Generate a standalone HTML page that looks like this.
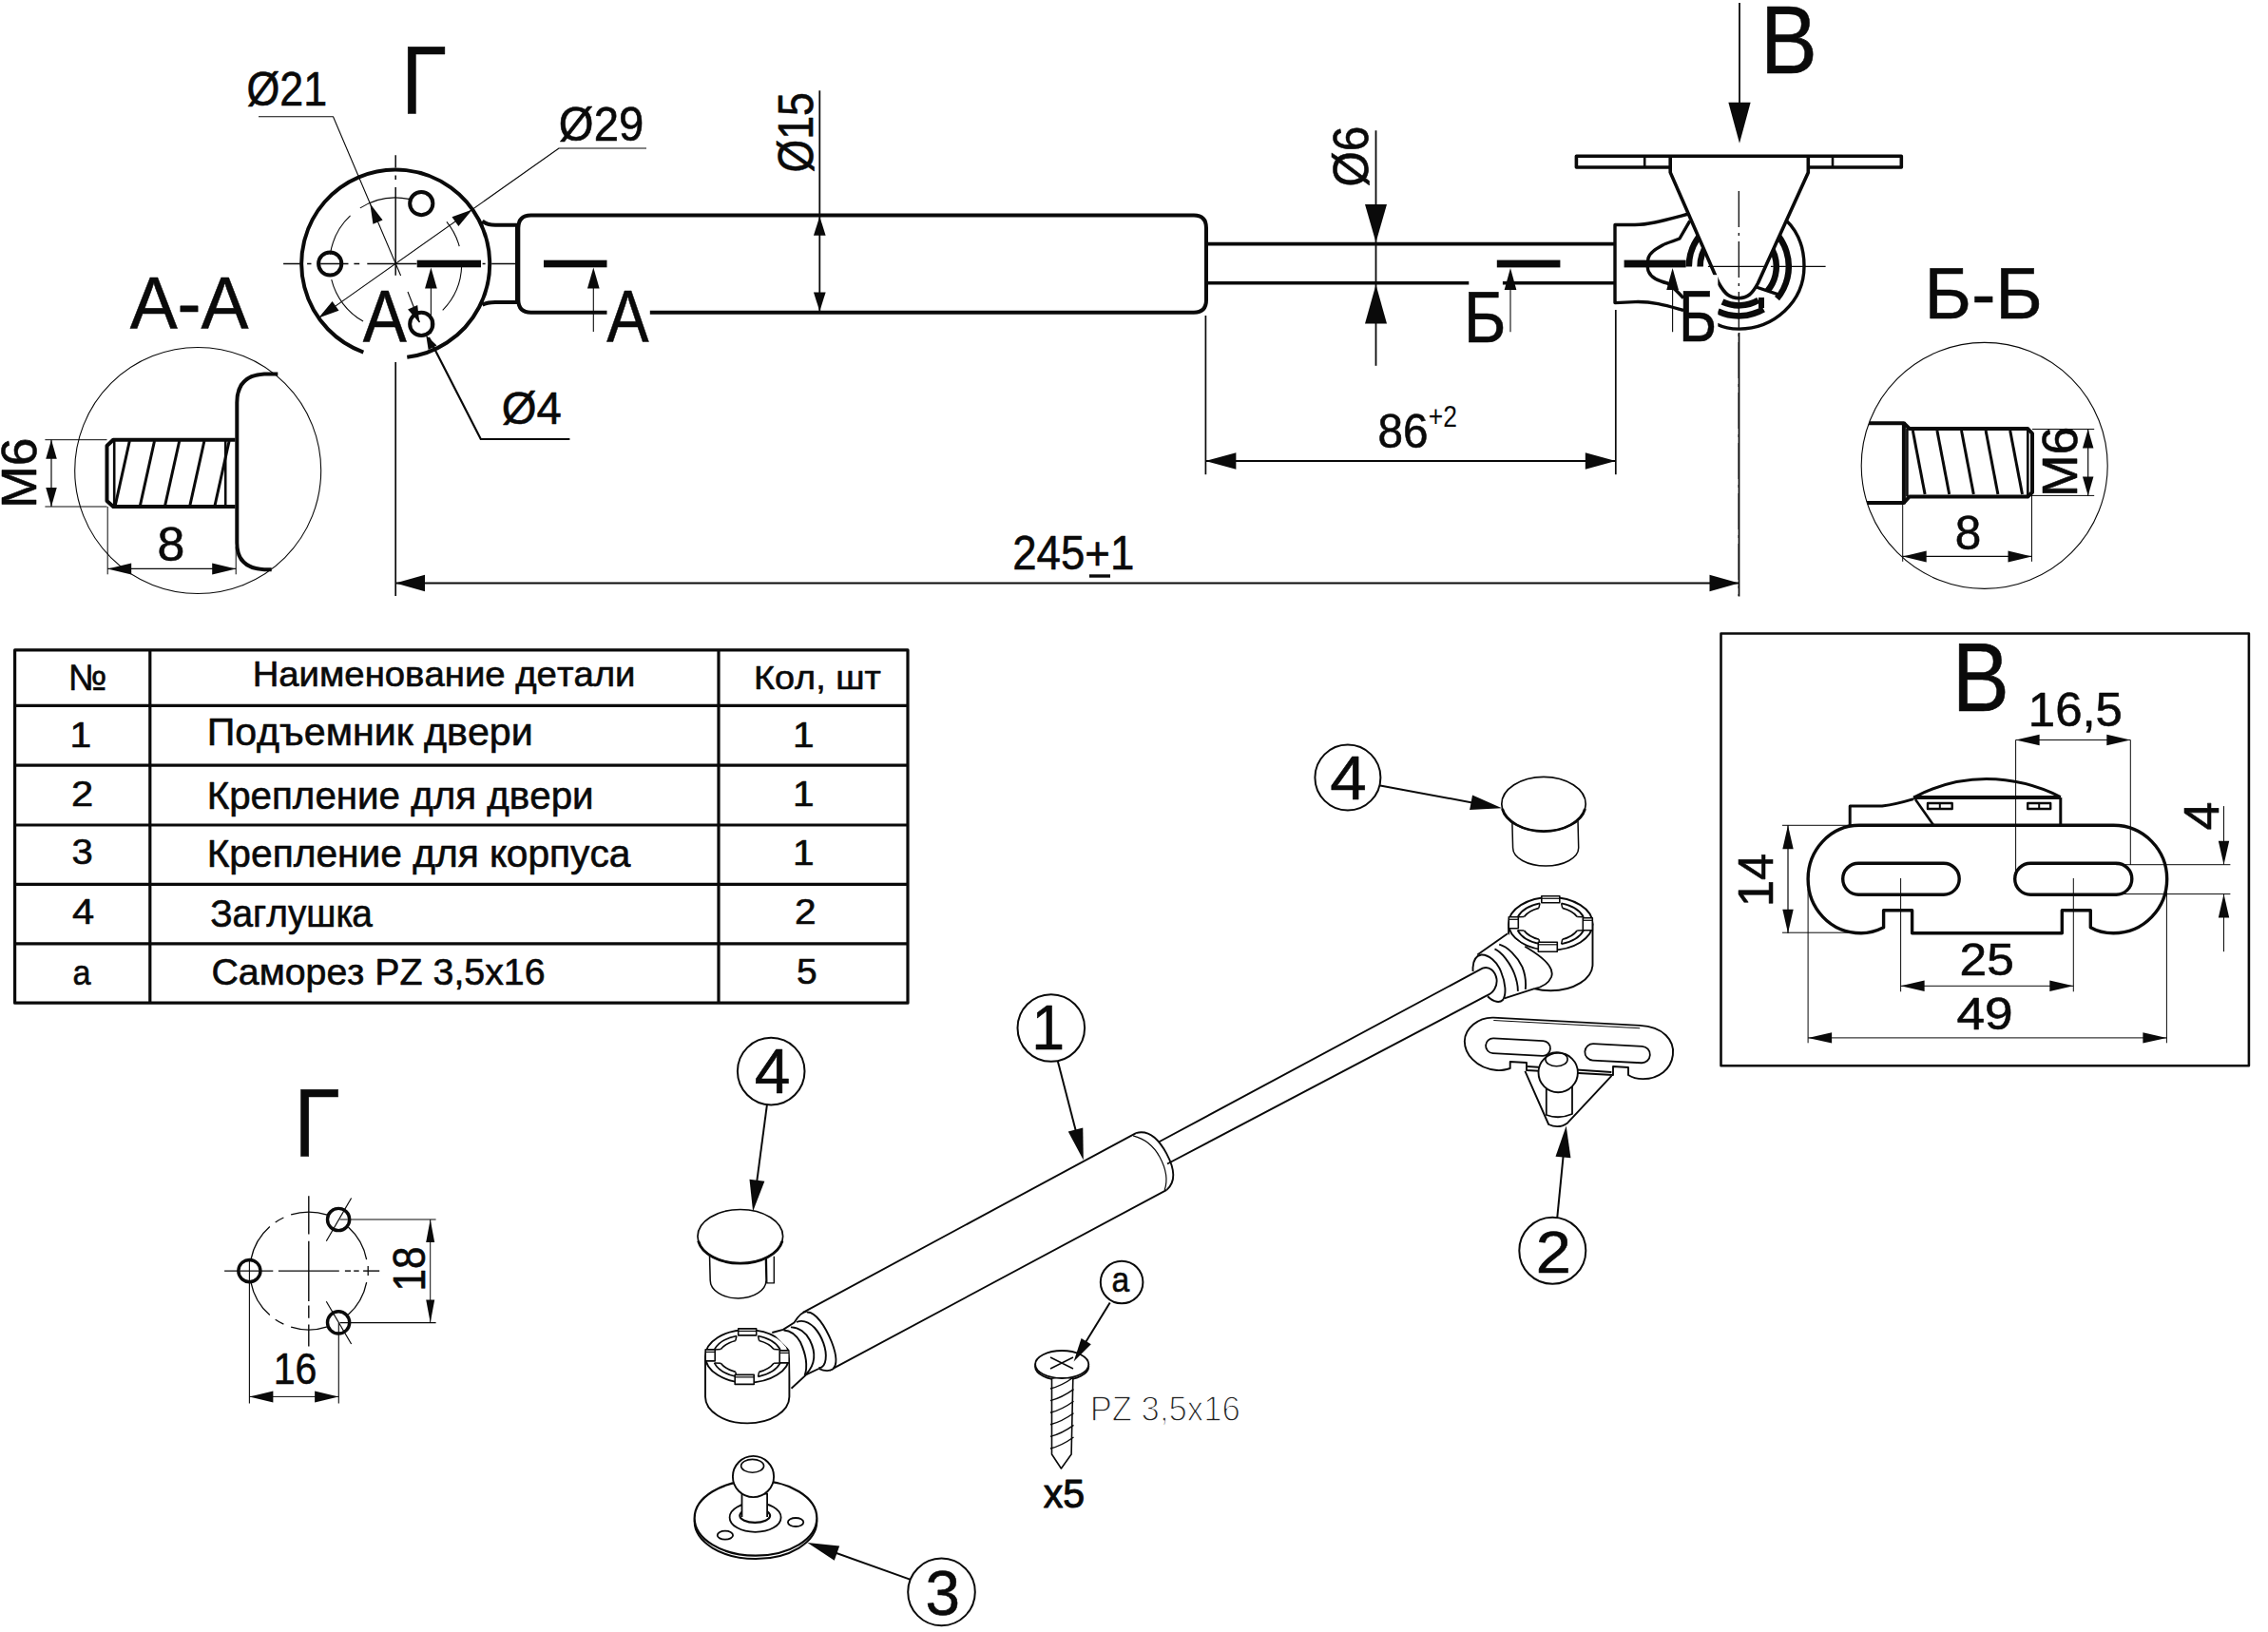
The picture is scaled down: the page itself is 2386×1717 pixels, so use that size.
<!DOCTYPE html>
<html><head><meta charset="utf-8"><style>
html,body{margin:0;padding:0;background:#fff;}
svg{display:block;}
text{font-family:"Liberation Sans",sans-serif;font-kerning:none;}
</style></head><body>
<svg width="2386" height="1717" viewBox="0 0 2386 1717">
<rect x="0" y="0" width="2386" height="1717" fill="#fff"/>
<g stroke="#0a0a0a" fill="none" stroke-linecap="butt" stroke-linejoin="round">
<path d="M382.34,370.53 A99.00,99.00 0 1 1 428.27,375.76" stroke-width="4.0" fill="none" />
<path d="M378.86,218.88 A69.50,69.50 0 0 1 430.06,209.40" stroke-width="1.1" fill="none" />
<path d="M347.39,267.71 A69.50,69.50 0 0 1 368.54,226.92" stroke-width="1.1" fill="none" />
<path d="M382.08,338.05 A69.50,69.50 0 0 1 348.74,294.20" stroke-width="1.1" fill="none" />
<path d="M485.67,279.68 A69.50,69.50 0 0 1 465.69,326.30" stroke-width="1.1" fill="none" />
<path d="M469.90,233.39 A69.50,69.50 0 0 1 483.20,259.04" stroke-width="1.1" fill="none" />
<circle cx="443.27" cy="214.03" r="12.10" stroke-width="4.0" fill="none" />
<circle cx="347.20" cy="277.50" r="12.10" stroke-width="4.0" fill="none" />
<circle cx="443.27" cy="340.97" r="12.10" stroke-width="4.0" fill="none" />
<line x1="298.10" y1="277.50" x2="315.70" y2="277.50" stroke-width="1.5" />
<line x1="323.10" y1="277.50" x2="327.50" y2="277.50" stroke-width="1.5" />
<line x1="337.10" y1="277.50" x2="366.50" y2="277.50" stroke-width="1.5" />
<line x1="372.40" y1="277.50" x2="378.20" y2="277.50" stroke-width="1.5" />
<line x1="386.30" y1="277.50" x2="438.50" y2="277.50" stroke-width="1.5" />
<line x1="507.60" y1="277.50" x2="510.60" y2="277.50" stroke-width="1.5" />
<line x1="517.20" y1="277.50" x2="545.90" y2="277.50" stroke-width="1.5" />
<line x1="416.20" y1="163.20" x2="416.20" y2="176.50" stroke-width="1.5" />
<line x1="416.20" y1="184.60" x2="416.20" y2="189.00" stroke-width="1.5" />
<line x1="416.20" y1="197.10" x2="416.20" y2="289.70" stroke-width="1.5" />
<line x1="416.20" y1="381.00" x2="416.20" y2="627.00" stroke-width="1.7" />
<path d="M272,122.8 L350.5,122.8 L421.6,290" stroke-width="1.1" fill="none" />
<path d="M429,307 L441.5,339" stroke-width="1.1" fill="none" />
<path d="M389.30,214.20 L402.58,231.38 L392.45,235.68 Z" fill="#0a0a0a" stroke="none"/>
<path d="M441.20,339.80 L429.10,325.39 L439.22,321.08 Z" fill="#0a0a0a" stroke="none"/>
<path d="M680,156 L588,156 L335.1,334.6" stroke-width="1.1" fill="none" />
<path d="M496.90,220.40 L482.39,237.99 L475.47,228.19 Z" fill="#0a0a0a" stroke="none"/>
<path d="M335.10,334.60 L349.61,317.01 L356.53,326.81 Z" fill="#0a0a0a" stroke="none"/>
<path d="M599.4,462 L505.8,462 L451,355" stroke-width="2.2" fill="none" />
<path d="M448.20,352.50 L459.53,363.53 L450.65,368.12 Z" fill="#0a0a0a" stroke="none"/>
<path d="M507.4,232.6 Q512,236.8 521,236.8 L544,236.8 L544,317.9 L521,317.9 Q512,317.9 507.4,320.8" stroke-width="4.0" fill="none" />
<path d="M1269,240 Q1269,226.5 1256,226.5 L558.5,226.5 Q545.3,226.5 545.3,240 L545.3,315.5 Q545.3,328.7 558.5,328.7 L638.5,328.7" stroke-width="4.0" fill="none" />
<path d="M683.8,328.7 L1256,328.7 Q1269,328.7 1269,315.5 L1269,240" stroke-width="4.0" fill="none" />
<rect x="438.7" y="273.7" width="67.3" height="7.6" fill="#0a0a0a" stroke="none"/>
<rect x="572" y="273.7" width="66.5" height="7.6" fill="#0a0a0a" stroke="none"/>
<line x1="453.40" y1="300.00" x2="453.40" y2="351.00" stroke-width="1.1" />
<path d="M453.40,281.60 L459.75,303.60 L447.05,303.60 Z" fill="#0a0a0a" stroke="none"/>
<line x1="624.30" y1="300.00" x2="624.30" y2="349.00" stroke-width="1.1" />
<path d="M624.30,281.60 L630.65,303.60 L617.95,303.60 Z" fill="#0a0a0a" stroke="none"/>
<text transform="translate(381.87,360.00) scale(0.8946,1)" font-size="77.04" fill="#0a0a0a" stroke="#0a0a0a" stroke-width="0.6" font-weight="normal">A</text>
<text transform="translate(638.37,360.00) scale(0.8633,1)" font-size="77.04" fill="#0a0a0a" stroke="#0a0a0a" stroke-width="0.6" font-weight="normal">A</text>
<text transform="translate(421.90,119.85) scale(0.8639,1)" font-size="101.60" fill="#0a0a0a" stroke="#0a0a0a" stroke-width="0.6" font-weight="normal">Г</text>
<text transform="translate(259.45,111.22) scale(0.9036,1)" font-size="49.62" fill="#0a0a0a" stroke="#0a0a0a" stroke-width="0.6" font-weight="normal">Ø21</text>
<text transform="translate(587.86,148.02) scale(0.9531,1)" font-size="49.62" fill="#0a0a0a" stroke="#0a0a0a" stroke-width="0.6" font-weight="normal">Ø29</text>
<text transform="translate(527.76,445.76) scale(0.9887,1)" font-size="47.86" fill="#0a0a0a" stroke="#0a0a0a" stroke-width="0.6" font-weight="normal">Ø4</text>
<text transform="translate(136.65,345.70) scale(0.9617,1)" font-size="77.91" fill="#0a0a0a" stroke="#0a0a0a" stroke-width="0.6" font-weight="normal">A-A</text>
<line x1="862.30" y1="95.30" x2="862.30" y2="328.70" stroke-width="1.8" />
<path d="M862.30,227.70 L868.65,247.70 L855.95,247.70 Z" fill="#0a0a0a" stroke="none"/>
<path d="M862.30,327.50 L855.95,307.50 L868.65,307.50 Z" fill="#0a0a0a" stroke="none"/>
<text transform="translate(855.27,181.55) rotate(-90) scale(0.8718,1)" font-size="51.23" fill="#0a0a0a" stroke="#0a0a0a" stroke-width="0.6">Ø15</text>
<line x1="1269.60" y1="256.60" x2="1699.80" y2="256.60" stroke-width="3.6" />
<line x1="1269.60" y1="297.80" x2="1545.30" y2="297.80" stroke-width="3.6" />
<line x1="1580.90" y1="297.80" x2="1699.80" y2="297.80" stroke-width="3.6" />
<line x1="1447.50" y1="137.30" x2="1447.50" y2="384.80" stroke-width="1.8" />
<path d="M1447.50,254.90 L1436.00,214.90 L1459.00,214.90 Z" fill="#0a0a0a" stroke="none"/>
<path d="M1447.50,299.50 L1459.00,340.50 L1436.00,340.50 Z" fill="#0a0a0a" stroke="none"/>
<text transform="translate(1438.67,196.56) rotate(-90) scale(0.9344,1)" font-size="51.23" fill="#0a0a0a" stroke="#0a0a0a" stroke-width="0.6">Ø6</text>
<rect x="1574.8" y="273.6" width="66.6" height="7.8" fill="#0a0a0a" stroke="none"/>
<line x1="1589.00" y1="300.00" x2="1589.00" y2="349.30" stroke-width="1.1" />
<path d="M1589.00,281.90 L1595.35,304.90 L1582.65,304.90 Z" fill="#0a0a0a" stroke="none"/>
<text transform="translate(1539.69,360.30) scale(0.9040,1)" font-size="75.58" fill="#0a0a0a" stroke="#0a0a0a" stroke-width="0.6" font-weight="normal">Б</text>
<path d="M1720,236.5 L1699,236.5 L1699,318.6 L1720,317.6 C1740,317 1755,322 1771,326.5" stroke-width="3.4" fill="none" />
<path d="M1720,236.5 C1735,236.5 1750,232 1778.8,224.5" stroke-width="3.4" fill="none" />
<path d="M1777.8,232.4 L1767,251 C1760,254 1752,256 1749.4,257.8 C1742,262 1735,266 1734,272 C1733,276 1733,284 1734.5,286 C1737,292 1746,296 1754.3,298 C1760,302 1766,308 1771,313.7" stroke-width="3.4" fill="none" />
<path d="M1878.8,231.4 C1892,244 1898,262 1898,280 C1898,318 1866,346 1829.3,346.1 C1820,346 1812,344 1806.3,341.2" stroke-width="3.4" fill="none" />
<path d="M1842.89,229.69 A52.50,52.50 0 0 1 1869.52,314.15" stroke-width="6.5" fill="none" />
<path d="M1839.52,242.25 A39.50,39.50 0 0 1 1859.56,305.79" stroke-width="6.5" fill="none" />
<path d="M1776.80,280.40 A52.50,52.50 0 0 1 1811.34,231.07" stroke-width="6.5" fill="none" />
<path d="M1788.60,280.40 A40.70,40.70 0 0 1 1815.38,242.15" stroke-width="6.5" fill="none" />
<path d="M1849.80,315.91 A41.00,41.00 0 0 1 1811.97,317.56" stroke-width="6.5" fill="none" />
<path d="M1855.30,325.43 A52.00,52.00 0 0 1 1807.32,327.53" stroke-width="6.5" fill="none" />
<line x1="1847.50" y1="302.00" x2="1871.00" y2="309.80" stroke-width="3.4" />
<line x1="1853.00" y1="313.00" x2="1853.00" y2="324.00" stroke-width="6" />
<path d="M1757.2,176 L1658.4,176 L1658.4,164.2 L2000.3,164.2 L2000.3,176 L1902.3,176" stroke-width="3.6" fill="none" />
<line x1="1730.20" y1="164.20" x2="1730.20" y2="176.00" stroke-width="2.6" />
<line x1="1928.00" y1="164.20" x2="1928.00" y2="176.00" stroke-width="2.6" />
<path d="M1757.2,166 L1757.2,181.4 L1808.2,298 C1815,310 1820,313.5 1829.3,313.7 C1838,313.5 1843,310 1849.4,298 L1902.3,181.4 L1902.3,166" stroke-width="3.6" fill="#fff" />
<line x1="1796.90" y1="280.40" x2="1920.60" y2="280.40" stroke-width="1.3" stroke-dasharray="60 6 3 6"/>
<line x1="1829.30" y1="201.00" x2="1829.30" y2="627.00" stroke-width="1.3" stroke-dasharray="38 6 3 6"/>
<rect x="1708.6" y="273.6" width="65" height="7.8" fill="#0a0a0a" stroke="none"/>
<line x1="1759.60" y1="300.00" x2="1759.60" y2="349.30" stroke-width="1.1" />
<path d="M1759.60,281.90 L1765.95,304.90 L1753.25,304.90 Z" fill="#0a0a0a" stroke="none"/>
<rect x="1772" y="289.2" width="35.3" height="73" fill="#fff" stroke="none"/>
<text transform="translate(1765.98,359.00) scale(0.8011,1)" font-size="76.45" fill="#0a0a0a" stroke="#0a0a0a" stroke-width="0.6" font-weight="normal">Б</text>
<line x1="1830.00" y1="3.00" x2="1830.00" y2="120.00" stroke-width="1.8" />
<path d="M1830.00,150.70 L1818.35,107.70 L1841.65,107.70 Z" fill="#0a0a0a" stroke="none"/>
<text transform="translate(1852.03,77.20) scale(0.8852,1)" font-size="101.46" fill="#0a0a0a" stroke="#0a0a0a" stroke-width="0.6" font-weight="normal">В</text>
<line x1="1268.40" y1="332.00" x2="1268.40" y2="499.20" stroke-width="1.7" />
<line x1="1699.80" y1="326.00" x2="1699.80" y2="499.20" stroke-width="1.7" />
<line x1="1829.50" y1="350.00" x2="1829.50" y2="627.40" stroke-width="1.7" />
<line x1="1268.40" y1="485.00" x2="1699.80" y2="485.00" stroke-width="1.9" />
<path d="M1268.40,485.00 L1300.40,476.20 L1300.40,493.80 Z" fill="#0a0a0a" stroke="none"/>
<path d="M1699.80,485.00 L1667.80,493.80 L1667.80,476.20 Z" fill="#0a0a0a" stroke="none"/>
<text transform="translate(1449.53,470.51) scale(0.9496,1)" font-size="50.14" fill="#0a0a0a" stroke="#0a0a0a" stroke-width="0.6" font-weight="normal">86</text>
<text transform="translate(1502.71,449.30) scale(0.8660,1)" font-size="30.51" fill="#0a0a0a" stroke="#0a0a0a" stroke-width="0" font-weight="normal">+2</text>
<line x1="416.00" y1="613.50" x2="1829.50" y2="613.50" stroke-width="2.0" />
<path d="M416.00,613.50 L447.00,604.70 L447.00,622.30 Z" fill="#0a0a0a" stroke="none"/>
<path d="M1829.50,613.50 L1798.50,622.30 L1798.50,604.70 Z" fill="#0a0a0a" stroke="none"/>
<text transform="translate(1065.20,598.81) scale(0.9080,1)" font-size="50.28" fill="#0a0a0a" stroke="#0a0a0a" stroke-width="0.6" font-weight="normal">245+1</text>
<line x1="1146.00" y1="606.00" x2="1168.00" y2="606.00" stroke-width="3.4" />
<text transform="translate(2024.60,335.00) scale(0.9825,1)" font-size="76.89" fill="#0a0a0a" stroke="#0a0a0a" stroke-width="0.6" font-weight="normal">Б-Б</text>
<circle cx="208.20" cy="495.00" r="129.50" stroke-width="1.1" fill="none" />
<path d="M247.5,462.7 L119.1,462.7 L112.5,469 L112.5,527 L119.1,533 L247.5,533" stroke-width="4.0" fill="none" />
<line x1="120.20" y1="464.00" x2="120.20" y2="532.00" stroke-width="2.6" />
<line x1="237.20" y1="464.00" x2="237.20" y2="532.00" stroke-width="2.6" />
<line x1="121.30" y1="531.50" x2="136.30" y2="464.00" stroke-width="3.0" />
<line x1="147.50" y1="531.50" x2="162.50" y2="464.00" stroke-width="3.0" />
<line x1="173.70" y1="531.50" x2="188.70" y2="464.00" stroke-width="3.0" />
<line x1="199.90" y1="531.50" x2="214.90" y2="464.00" stroke-width="3.0" />
<line x1="226.10" y1="531.50" x2="241.10" y2="464.00" stroke-width="3.0" />
<path d="M292.3,393.6 L278,393.6 Q249.3,395 249.3,423.4 L249.3,571.2 Q249.3,598 278,599.3 L285.7,599.3" stroke-width="4.0" fill="none" />
<line x1="47.40" y1="462.70" x2="112.50" y2="462.70" stroke-width="1.0" />
<line x1="47.40" y1="533.00" x2="112.50" y2="533.00" stroke-width="1.0" />
<line x1="54.00" y1="462.70" x2="54.00" y2="533.00" stroke-width="1.2" />
<path d="M54.00,462.70 L59.75,482.70 L48.25,482.70 Z" fill="#0a0a0a" stroke="none"/>
<path d="M54.00,533.00 L48.25,513.00 L59.75,513.00 Z" fill="#0a0a0a" stroke="none"/>
<text transform="translate(38.10,534.78) rotate(-90) scale(1.0378,1)" font-size="51.41" fill="#0a0a0a" stroke="#0a0a0a" stroke-width="0.6">M6</text>
<line x1="113.20" y1="533.00" x2="113.20" y2="604.30" stroke-width="1.0" />
<line x1="248.20" y1="575.00" x2="248.20" y2="604.30" stroke-width="1.0" />
<line x1="113.20" y1="598.40" x2="248.20" y2="598.40" stroke-width="1.3" />
<path d="M113.20,598.40 L138.20,592.40 L138.20,604.40 Z" fill="#0a0a0a" stroke="none"/>
<path d="M248.20,598.40 L223.20,604.40 L223.20,592.40 Z" fill="#0a0a0a" stroke="none"/>
<text transform="translate(165.45,589.51) scale(1.0387,1)" font-size="49.86" fill="#0a0a0a" stroke="#0a0a0a" stroke-width="0.6" font-weight="normal">8</text>
<circle cx="2087.70" cy="489.90" r="129.50" stroke-width="1.1" fill="none" />
<clipPath id="bbclip"><circle cx="2087.7" cy="489.9" r="129.5"/></clipPath>
<g clip-path="url(#bbclip)">
<path d="M1950,445.2 L2002.9,445.2 L2002.9,529 L1950,529" stroke-width="4.0" fill="none" />
</g>
<path d="M2002.9,445.2 L2008.7,451 L2133.3,451 L2138,456 L2138,518 L2133.3,522.5 L2008.7,522.5 L2002.9,529" stroke-width="4.0" fill="none" />
<line x1="2006.40" y1="451.00" x2="2006.40" y2="522.50" stroke-width="2.6" />
<line x1="2133.30" y1="451.00" x2="2133.30" y2="522.50" stroke-width="2.6" />
<line x1="2012.30" y1="453.00" x2="2025.10" y2="520.00" stroke-width="3.0" />
<line x1="2037.90" y1="453.00" x2="2050.70" y2="520.00" stroke-width="3.0" />
<line x1="2063.50" y1="453.00" x2="2076.30" y2="520.00" stroke-width="3.0" />
<line x1="2089.10" y1="453.00" x2="2101.90" y2="520.00" stroke-width="3.0" />
<line x1="2114.70" y1="453.00" x2="2127.50" y2="520.00" stroke-width="3.0" />
<line x1="2138.00" y1="451.50" x2="2203.20" y2="451.50" stroke-width="1.0" />
<line x1="2138.00" y1="521.40" x2="2203.20" y2="521.40" stroke-width="1.0" />
<line x1="2196.70" y1="451.50" x2="2196.70" y2="521.40" stroke-width="1.2" />
<path d="M2196.70,451.50 L2202.45,471.50 L2190.95,471.50 Z" fill="#0a0a0a" stroke="none"/>
<path d="M2196.70,521.40 L2190.95,501.40 L2202.45,501.40 Z" fill="#0a0a0a" stroke="none"/>
<text transform="translate(2185.20,522.99) rotate(-90) scale(1.0496,1)" font-size="50.99" fill="#0a0a0a" stroke="#0a0a0a" stroke-width="0.6">M6</text>
<line x1="2001.70" y1="529.00" x2="2001.70" y2="590.80" stroke-width="1.0" />
<line x1="2137.50" y1="518.00" x2="2137.50" y2="590.80" stroke-width="1.0" />
<line x1="2001.70" y1="585.40" x2="2137.50" y2="585.40" stroke-width="1.3" />
<path d="M2001.70,585.40 L2026.70,579.40 L2026.70,591.40 Z" fill="#0a0a0a" stroke="none"/>
<path d="M2137.50,585.40 L2112.50,591.40 L2112.50,579.40 Z" fill="#0a0a0a" stroke="none"/>
<text transform="translate(2056.65,577.52) scale(1.0001,1)" font-size="49.43" fill="#0a0a0a" stroke="#0a0a0a" stroke-width="0.6" font-weight="normal">8</text>
<rect x="15.6" y="683.9" width="939.4" height="371.30000000000007" stroke-width="3.2" fill="none"/>
<line x1="15.60" y1="742.40" x2="955.00" y2="742.40" stroke-width="3.2" />
<line x1="15.60" y1="805.20" x2="955.00" y2="805.20" stroke-width="3.2" />
<line x1="15.60" y1="868.00" x2="955.00" y2="868.00" stroke-width="3.2" />
<line x1="15.60" y1="930.40" x2="955.00" y2="930.40" stroke-width="3.2" />
<line x1="15.60" y1="992.90" x2="955.00" y2="992.90" stroke-width="3.2" />
<line x1="157.80" y1="683.90" x2="157.80" y2="1055.20" stroke-width="3.2" />
<line x1="756.00" y1="683.90" x2="756.00" y2="1055.20" stroke-width="3.2" />
<text transform="translate(71.93,725.60) scale(0.9857,1)" font-size="38.37" fill="#0a0a0a" stroke="#0a0a0a" stroke-width="0.6" font-weight="normal">№</text>
<text transform="translate(265.66,722.30) scale(1.0379,1)" font-size="36.92" fill="#0a0a0a" stroke="#0a0a0a" stroke-width="0.6" font-weight="normal">Наименование детали</text>
<text transform="translate(793.10,724.90) scale(1.0739,1)" font-size="35.18" fill="#0a0a0a" stroke="#0a0a0a" stroke-width="0.6" font-weight="normal">Кол, шт</text>
<text transform="translate(73.49,786.30) scale(1.1100,1)" font-size="36.77" fill="#0a0a0a" stroke="#0a0a0a" stroke-width="0.6" font-weight="normal">1</text>
<text transform="translate(74.90,847.80) scale(1.1510,1)" font-size="36.23" fill="#0a0a0a" stroke="#0a0a0a" stroke-width="0.6" font-weight="normal">2</text>
<text transform="translate(75.47,909.45) scale(1.1040,1)" font-size="36.30" fill="#0a0a0a" stroke="#0a0a0a" stroke-width="0.6" font-weight="normal">3</text>
<text transform="translate(76.04,971.80) scale(1.1200,1)" font-size="37.21" fill="#0a0a0a" stroke="#0a0a0a" stroke-width="0.6" font-weight="normal">4</text>
<text transform="translate(76.44,1036.04) scale(0.9202,1)" font-size="37.24" fill="#0a0a0a" stroke="#0a0a0a" stroke-width="0.6" font-weight="normal">а</text>
<text transform="translate(217.66,783.90) scale(1.0112,1)" font-size="40.70" fill="#0a0a0a" stroke="#0a0a0a" stroke-width="0.6" font-weight="normal">Подъемник двери</text>
<text transform="translate(217.69,850.50) scale(0.9911,1)" font-size="40.70" fill="#0a0a0a" stroke="#0a0a0a" stroke-width="0.6" font-weight="normal">Крепление для двери</text>
<text transform="translate(217.66,912.10) scale(1.0002,1)" font-size="40.70" fill="#0a0a0a" stroke="#0a0a0a" stroke-width="0.6" font-weight="normal">Крепление для корпуса</text>
<text transform="translate(221.13,974.90) scale(0.9668,1)" font-size="40.13" fill="#0a0a0a" stroke="#0a0a0a" stroke-width="0.6" font-weight="normal">Заглушка</text>
<text transform="translate(222.40,1036.30) scale(1.0326,1)" font-size="38.10" fill="#0a0a0a" stroke="#0a0a0a" stroke-width="0.6" font-weight="normal">Саморез PZ 3,5x16</text>
<text transform="translate(833.91,786.30) scale(1.1037,1)" font-size="36.77" fill="#0a0a0a" stroke="#0a0a0a" stroke-width="0.6" font-weight="normal">1</text>
<text transform="translate(833.91,847.80) scale(1.1037,1)" font-size="36.77" fill="#0a0a0a" stroke="#0a0a0a" stroke-width="0.6" font-weight="normal">1</text>
<text transform="translate(833.91,909.80) scale(1.0866,1)" font-size="37.36" fill="#0a0a0a" stroke="#0a0a0a" stroke-width="0.6" font-weight="normal">1</text>
<text transform="translate(835.96,971.80) scale(1.1076,1)" font-size="36.66" fill="#0a0a0a" stroke="#0a0a0a" stroke-width="0.6" font-weight="normal">2</text>
<text transform="translate(837.94,1035.43) scale(1.0431,1)" font-size="37.41" fill="#0a0a0a" stroke="#0a0a0a" stroke-width="0.6" font-weight="normal">5</text>
<rect x="1810.5" y="666.5" width="555.4" height="454.8" stroke-width="2.6" fill="none"/>
<text transform="translate(2053.80,747.60) scale(0.8789,1)" font-size="102.62" fill="#0a0a0a" stroke="#0a0a0a" stroke-width="0.6" font-weight="normal">В</text>
<path d="M1956.1,868.3 L2223.3,868.3 C2256,868.3 2279.7,895 2279.7,924.7 C2279.7,955 2256,981.7 2223.3,981.7 C2213,981.7 2205,979 2199.3,975.7 L2199.3,957.7 L2169.3,957.7 L2169.3,981.7 L2011.6,981.7 L2011.6,957.7 L1981.6,957.7 L1981.6,975.7 C1975,979 1967,981.7 1958,981.7 C1925,981.7 1902.1,955 1902.1,924.7 C1902.1,895 1925,868.3 1956.1,868.3 Z" stroke-width="3.4" fill="none" />
<rect x="1938.7" y="908.2" width="122.5" height="33" rx="16.5" stroke-width="3.4" fill="none"/>
<rect x="2119.7" y="908.2" width="123.1" height="33" rx="16.5" stroke-width="3.4" fill="none"/>
<path d="M1946.2,868.3 L1946.2,848.1 L1980.1,848.1 Q1995,846 2013.1,840.6" stroke-width="3.0" fill="none" />
<line x1="2013.10" y1="839.10" x2="2167.80" y2="839.10" stroke-width="4.0" />
<line x1="2167.80" y1="839.10" x2="2167.80" y2="868.30" stroke-width="3.0" />
<path d="M2013.1,839.1 Q2050,819.6 2089.7,819.6 Q2130,819.6 2167.8,838.5" stroke-width="3.0" fill="none" />
<line x1="2015.00" y1="841.00" x2="2034.20" y2="868.30" stroke-width="2.6" />
<rect x="2028" y="845" width="25.7" height="6" stroke-width="2.4" fill="none"/>
<rect x="2133.2" y="845" width="24" height="6" stroke-width="2.4" fill="none"/>
<line x1="2040.80" y1="845.00" x2="2040.80" y2="851.00" stroke-width="2" />
<line x1="2145.20" y1="845.00" x2="2145.20" y2="851.00" stroke-width="2" />
<line x1="2120.60" y1="778.50" x2="2120.60" y2="924.00" stroke-width="1.0" />
<line x1="2241.30" y1="778.50" x2="2241.30" y2="910.00" stroke-width="1.0" />
<line x1="2120.60" y1="778.50" x2="2241.30" y2="778.50" stroke-width="1.0" />
<path d="M2120.60,778.50 L2145.60,772.80 L2145.60,784.20 Z" fill="#0a0a0a" stroke="none"/>
<path d="M2241.30,778.50 L2216.30,784.20 L2216.30,772.80 Z" fill="#0a0a0a" stroke="none"/>
<text transform="translate(2133.82,764.00) scale(1.0073,1)" font-size="50.56" fill="#0a0a0a" stroke="#0a0a0a" stroke-width="0.6" font-weight="normal">16,5</text>
<line x1="1875.00" y1="868.30" x2="1946.00" y2="868.30" stroke-width="1.0" />
<line x1="1875.00" y1="981.20" x2="1958.00" y2="981.20" stroke-width="1.0" />
<line x1="1881.00" y1="868.30" x2="1881.00" y2="981.70" stroke-width="1.2" />
<path d="M1881.00,868.30 L1886.70,893.30 L1875.30,893.30 Z" fill="#0a0a0a" stroke="none"/>
<path d="M1881.00,981.70 L1875.30,956.70 L1886.70,956.70 Z" fill="#0a0a0a" stroke="none"/>
<text transform="translate(1864.50,954.06) rotate(-90) scale(0.9680,1)" font-size="52.33" fill="#0a0a0a" stroke="#0a0a0a" stroke-width="0.6">14</text>
<line x1="1999.60" y1="924.00" x2="1999.60" y2="1043.30" stroke-width="1.0" />
<line x1="2181.30" y1="924.00" x2="2181.30" y2="1043.30" stroke-width="1.0" />
<line x1="1999.60" y1="1037.30" x2="2181.30" y2="1037.30" stroke-width="1.0" />
<path d="M1999.60,1037.30 L2024.60,1031.60 L2024.60,1043.00 Z" fill="#0a0a0a" stroke="none"/>
<path d="M2181.30,1037.30 L2156.30,1043.00 L2156.30,1031.60 Z" fill="#0a0a0a" stroke="none"/>
<text transform="translate(2061.61,1026.32) scale(1.0532,1)" font-size="48.87" fill="#0a0a0a" stroke="#0a0a0a" stroke-width="0.6" font-weight="normal">25</text>
<line x1="1902.10" y1="935.00" x2="1902.10" y2="1097.30" stroke-width="1.0" />
<line x1="2279.40" y1="935.00" x2="2279.40" y2="1097.30" stroke-width="1.0" />
<line x1="1902.10" y1="1091.90" x2="2279.40" y2="1091.90" stroke-width="1.0" />
<path d="M1902.10,1091.90 L1927.10,1086.20 L1927.10,1097.60 Z" fill="#0a0a0a" stroke="none"/>
<path d="M2279.40,1091.90 L2254.40,1097.60 L2254.40,1086.20 Z" fill="#0a0a0a" stroke="none"/>
<text transform="translate(2058.48,1083.32) scale(1.0931,1)" font-size="48.73" fill="#0a0a0a" stroke="#0a0a0a" stroke-width="0.6" font-weight="normal">49</text>
<line x1="2226.00" y1="909.70" x2="2346.40" y2="909.70" stroke-width="1.0" />
<line x1="2226.00" y1="940.60" x2="2346.40" y2="940.60" stroke-width="1.0" />
<line x1="2339.50" y1="848.10" x2="2339.50" y2="909.70" stroke-width="1.0" />
<path d="M2339.50,909.70 L2333.80,884.70 L2345.20,884.70 Z" fill="#0a0a0a" stroke="none"/>
<line x1="2339.50" y1="940.60" x2="2339.50" y2="1001.20" stroke-width="1.0" />
<path d="M2339.50,940.60 L2345.20,965.60 L2333.80,965.60 Z" fill="#0a0a0a" stroke="none"/>
<text transform="translate(2334.40,873.43) rotate(-90) scale(1.0278,1)" font-size="52.33" fill="#0a0a0a" stroke="#0a0a0a" stroke-width="0.6">4</text>
<text transform="translate(309.23,1217.45) scale(0.8642,1)" font-size="102.62" fill="#0a0a0a" stroke="#0a0a0a" stroke-width="0.6" font-weight="normal">Г</text>
<path d="M263.96,1325.16 A62.00,62.00 0 0 1 283.80,1290.59" stroke-width="1.3" fill="none" />
<path d="M289.68,1286.00 A62.00,62.00 0 0 1 298.40,1281.00" stroke-width="1.3" fill="none" />
<path d="M306.16,1277.97 A62.00,62.00 0 0 1 344.27,1278.24" stroke-width="1.3" fill="none" />
<path d="M366.37,1291.10 A62.00,62.00 0 0 1 385.64,1325.16" stroke-width="1.3" fill="none" />
<path d="M385.64,1349.04 A62.00,62.00 0 0 1 366.13,1383.32" stroke-width="1.3" fill="none" />
<path d="M344.27,1395.96 A62.00,62.00 0 0 1 306.16,1396.23" stroke-width="1.3" fill="none" />
<path d="M298.40,1393.20 A62.00,62.00 0 0 1 289.68,1388.20" stroke-width="1.3" fill="none" />
<path d="M283.80,1383.61 A62.00,62.00 0 0 1 263.96,1349.04" stroke-width="1.3" fill="none" />
<line x1="236.10" y1="1337.10" x2="287.30" y2="1337.10" stroke-width="1.4" />
<line x1="292.90" y1="1337.10" x2="356.80" y2="1337.10" stroke-width="1.4" />
<line x1="362.90" y1="1337.10" x2="369.00" y2="1337.10" stroke-width="1.4" />
<line x1="372.20" y1="1337.10" x2="377.70" y2="1337.10" stroke-width="1.4" />
<line x1="382.10" y1="1337.10" x2="399.20" y2="1337.10" stroke-width="1.4" />
<line x1="324.80" y1="1258.30" x2="324.80" y2="1298.50" stroke-width="1.4" />
<line x1="324.80" y1="1305.70" x2="324.80" y2="1369.10" stroke-width="1.4" />
<line x1="324.80" y1="1373.50" x2="324.80" y2="1386.80" stroke-width="1.4" />
<line x1="324.80" y1="1393.40" x2="324.80" y2="1416.60" stroke-width="1.4" />
<circle cx="262.40" cy="1337.10" r="11.60" stroke-width="3.4" fill="none" />
<circle cx="356.10" cy="1283.00" r="11.60" stroke-width="3.4" fill="none" />
<circle cx="356.10" cy="1391.40" r="11.60" stroke-width="3.4" fill="none" />
<line x1="343.30" y1="1305.70" x2="369.60" y2="1260.50" stroke-width="1.2" />
<line x1="343.30" y1="1369.20" x2="369.60" y2="1414.00" stroke-width="1.2" />
<line x1="357.50" y1="1283.00" x2="458.60" y2="1283.00" stroke-width="1.1" />
<line x1="357.50" y1="1391.60" x2="458.60" y2="1391.60" stroke-width="1.1" />
<line x1="452.70" y1="1283.00" x2="452.70" y2="1391.40" stroke-width="1.0" />
<path d="M452.70,1283.00 L457.20,1307.00 L448.20,1307.00 Z" fill="#0a0a0a" stroke="none"/>
<path d="M452.70,1391.40 L448.20,1367.40 L457.20,1367.40 Z" fill="#0a0a0a" stroke="none"/>
<text transform="translate(446.94,1358.52) rotate(-90) scale(0.8915,1)" font-size="47.46" fill="#0a0a0a" stroke="#0a0a0a" stroke-width="0.6">18</text>
<line x1="262.40" y1="1325.00" x2="262.40" y2="1476.40" stroke-width="1.1" />
<line x1="356.30" y1="1392.00" x2="356.30" y2="1476.40" stroke-width="1.1" />
<line x1="387.20" y1="1332.00" x2="387.20" y2="1342.00" stroke-width="1.3" />
<line x1="262.40" y1="1469.40" x2="356.10" y2="1469.40" stroke-width="1.0" />
<path d="M262.40,1469.40 L287.40,1463.40 L287.40,1475.40 Z" fill="#0a0a0a" stroke="none"/>
<path d="M356.10,1469.40 L331.10,1475.40 L331.10,1463.40 Z" fill="#0a0a0a" stroke="none"/>
<text transform="translate(287.67,1456.15) scale(0.8931,1)" font-size="46.04" fill="#0a0a0a" stroke="#0a0a0a" stroke-width="0.6" font-weight="normal">16</text>
<g transform="translate(859.4,1412.2) rotate(-28.4)">
<path d="M2,-34.5 L400,-34 M-2,32.3 L400,34" stroke-width="1.9" fill="none" />
<path d="M400,-34 Q418,-30 418,0 Q418,30 400,34" stroke-width="1.9" fill="none" />
<path d="M396,-33 Q410,-20 410,0 Q410,22 398,33" stroke-width="1.2" fill="none" />
</g>
<path d="M742.0,1426.9 L742.0,1469.6 A44.2,27.8 0 0 0 830.4,1469.6 L830.4,1426.9" stroke-width="1.9" fill="#fff" />
<ellipse cx="786.20" cy="1426.90" rx="44.20" ry="27.80" stroke-width="1.9" fill="#fff" transform="rotate(0 786.20 1426.90)" />
<path d="M751.49,1419.95 A36.5,22.5 0 0 1 774.92,1405.50" stroke-width="1.7" fill="none" />
<path d="M758.34,1419.58 A30.5,18.0 0 0 1 773.79,1410.46" stroke-width="1.7" fill="none" />
<path d="M751.5,1419.9 L758.3,1419.6" stroke-width="1.5" fill="none" />
<path d="M774.9,1405.5 L773.8,1410.5" stroke-width="1.5" fill="none" />
<path d="M797.48,1405.50 A36.5,22.5 0 0 1 820.91,1419.95" stroke-width="1.7" fill="none" />
<path d="M798.61,1410.46 A30.5,18.0 0 0 1 814.06,1419.58" stroke-width="1.7" fill="none" />
<path d="M797.5,1405.5 L798.6,1410.5" stroke-width="1.5" fill="none" />
<path d="M820.9,1419.9 L814.1,1419.6" stroke-width="1.5" fill="none" />
<path d="M820.91,1433.85 A36.5,22.5 0 0 1 797.48,1448.30" stroke-width="1.7" fill="none" />
<path d="M814.06,1434.22 A30.5,18.0 0 0 1 798.61,1443.34" stroke-width="1.7" fill="none" />
<path d="M820.9,1433.9 L814.1,1434.2" stroke-width="1.5" fill="none" />
<path d="M797.5,1448.3 L798.6,1443.3" stroke-width="1.5" fill="none" />
<path d="M774.92,1448.30 A36.5,22.5 0 0 1 751.49,1433.85" stroke-width="1.7" fill="none" />
<path d="M773.79,1443.34 A30.5,18.0 0 0 1 758.34,1434.22" stroke-width="1.7" fill="none" />
<path d="M774.9,1448.3 L773.8,1443.3" stroke-width="1.5" fill="none" />
<path d="M751.5,1433.9 L758.3,1434.2" stroke-width="1.5" fill="none" />
<rect x="776.7" y="1397.9" width="19" height="7" stroke-width="1.6" fill="#fff"/>
<line x1="776.70" y1="1400.40" x2="795.70" y2="1400.40" stroke-width="1.2" />
<rect x="742.2" y="1419.9" width="10" height="12" stroke-width="1.6" fill="#fff"/>
<line x1="742.20" y1="1422.40" x2="752.20" y2="1422.40" stroke-width="1.2" />
<rect x="820.2" y="1420.9" width="10" height="13" stroke-width="1.6" fill="#fff"/>
<line x1="820.20" y1="1423.40" x2="830.20" y2="1423.40" stroke-width="1.2" />
<rect x="773.2" y="1446.4" width="20" height="10" stroke-width="1.6" fill="#fff"/>
<line x1="773.20" y1="1448.90" x2="793.20" y2="1448.90" stroke-width="1.2" />
<path d="M1587.1,971.8 L1587.1,1014.5 A44.2,27.8 0 0 0 1675.5,1014.5 L1675.5,971.8" stroke-width="1.9" fill="#fff" />
<ellipse cx="1631.30" cy="971.80" rx="44.20" ry="27.80" stroke-width="1.9" fill="#fff" transform="rotate(0 1631.30 971.80)" />
<path d="M1596.59,964.85 A36.5,22.5 0 0 1 1620.02,950.40" stroke-width="1.7" fill="none" />
<path d="M1603.44,964.48 A30.5,18.0 0 0 1 1618.89,955.36" stroke-width="1.7" fill="none" />
<path d="M1596.6,964.8 L1603.4,964.5" stroke-width="1.5" fill="none" />
<path d="M1620.0,950.4 L1618.9,955.4" stroke-width="1.5" fill="none" />
<path d="M1642.58,950.40 A36.5,22.5 0 0 1 1666.01,964.85" stroke-width="1.7" fill="none" />
<path d="M1643.71,955.36 A30.5,18.0 0 0 1 1659.16,964.48" stroke-width="1.7" fill="none" />
<path d="M1642.6,950.4 L1643.7,955.4" stroke-width="1.5" fill="none" />
<path d="M1666.0,964.8 L1659.2,964.5" stroke-width="1.5" fill="none" />
<path d="M1666.01,978.75 A36.5,22.5 0 0 1 1642.58,993.20" stroke-width="1.7" fill="none" />
<path d="M1659.16,979.12 A30.5,18.0 0 0 1 1643.71,988.24" stroke-width="1.7" fill="none" />
<path d="M1666.0,978.8 L1659.2,979.1" stroke-width="1.5" fill="none" />
<path d="M1642.6,993.2 L1643.7,988.2" stroke-width="1.5" fill="none" />
<path d="M1620.02,993.20 A36.5,22.5 0 0 1 1596.59,978.75" stroke-width="1.7" fill="none" />
<path d="M1618.89,988.24 A30.5,18.0 0 0 1 1603.44,979.12" stroke-width="1.7" fill="none" />
<path d="M1620.0,993.2 L1618.9,988.2" stroke-width="1.5" fill="none" />
<path d="M1596.6,978.8 L1603.4,979.1" stroke-width="1.5" fill="none" />
<rect x="1621.8" y="942.8" width="19" height="7" stroke-width="1.6" fill="#fff"/>
<line x1="1621.80" y1="945.30" x2="1640.80" y2="945.30" stroke-width="1.2" />
<rect x="1587.3" y="964.8" width="10" height="12" stroke-width="1.6" fill="#fff"/>
<line x1="1587.30" y1="967.30" x2="1597.30" y2="967.30" stroke-width="1.2" />
<rect x="1665.3" y="965.8" width="10" height="13" stroke-width="1.6" fill="#fff"/>
<line x1="1665.30" y1="968.30" x2="1675.30" y2="968.30" stroke-width="1.2" />
<rect x="1618.3" y="991.3" width="20" height="10" stroke-width="1.6" fill="#fff"/>
<line x1="1618.30" y1="993.80" x2="1638.30" y2="993.80" stroke-width="1.2" />
<path d="M812.3,1402 L835.5,1391.5 L849,1380.5 C858,1380 868,1395 875,1412 C880,1425 881,1436 876,1440.5 C872,1443 866,1442 861.3,1440 L832.5,1460.8 L830.5,1420 Z" fill="#fff" stroke="none"/>
<path d="M849,1380.5 C858,1380 868,1395 875,1412 C880,1425 881,1436 876,1440.5 C872,1443 866,1442 861.3,1440" stroke-width="1.9" fill="none" />
<path d="M849,1379.6 C845,1380 840,1384 835.5,1391.5 L823.9,1398.9 L812.3,1402" stroke-width="1.9" fill="none" />
<path d="M838,1391 C845,1388 852,1392 857,1397 C865,1406 870,1420 868.6,1430.1 C868,1436 865,1439 861.3,1439.3" stroke-width="1.9" fill="none" />
<path d="M831.9,1396.4 C840,1396 848,1402 852,1410 C858,1422 858,1435 848.4,1445.5" stroke-width="1.9" fill="none" />
<path d="M824.5,1399.5 C832,1400 838,1405 842,1412 C848,1425 850,1437 846.6,1447.3" stroke-width="1.9" fill="none" />
<path d="M832.5,1460.8 L848.4,1446.1 L861.3,1440" stroke-width="1.9" fill="none" />
<path d="M1549.6,1022 L1554.3,1004.5 L1586,982.3 L1604.2,995.7 C1622,1006 1636,1018 1632,1028 C1629,1035 1622,1038.5 1614.3,1040.2 L1582.6,1050.4 L1565,1048.3 Z" fill="#fff" stroke="none"/>
<path d="M1554.3,1004.5 L1586,982.3" stroke-width="1.9" fill="none" />
<path d="M1582.6,1050.4 L1614.3,1040.2" stroke-width="1.9" fill="none" />
<path d="M1604.2,995.7 C1622,1006 1636,1018 1632,1028 C1629,1035 1622,1038.5 1614.3,1040.2" stroke-width="1.9" fill="none" />
<path d="M1577.2,993.7 C1586,996 1596,1006 1601.5,1017.3 C1605,1026 1605.5,1034 1604.8,1040.9" stroke-width="1.9" fill="none" />
<path d="M1572.5,998.4 C1580,1002 1588,1012 1593,1024 C1596,1032 1597,1038 1596.8,1042.9" stroke-width="1.9" fill="none" />
<path d="M1549.6,1022 C1549,1012 1551,1006 1558.3,1004.5 C1566,1004 1575,1012 1579,1022 C1584,1034 1585,1046 1581,1052 C1578,1055 1572,1055 1565,1048.3" stroke-width="1.9" fill="none" />
<path d="M1555,1021 L1562.6,1018.1 C1567,1016 1573,1022 1574.5,1030 C1575.5,1038 1571,1045 1563.7,1047.7 L1553,1049 Z" fill="#fff" stroke="none"/>
<path d="M1219,1201.5 L1559.7,1018.7 C1567,1016 1573,1022 1574.5,1030 C1575.5,1038 1571,1045 1563.7,1047.7 L1228,1224.5" stroke-width="1.9" fill="none" />
<path d="M746.5,1320.6 L747.2,1346.9 A29.4,19 0 0 0 806.0,1346.9 L805.3,1317.8" stroke-width="1.5" fill="#fff" />
<path d="M806.3,1320.8 L806.8,1349.9 L814.3,1349.9 L814.3,1321.8" stroke-width="1.4" fill="#fff" />
<ellipse cx="778.80" cy="1300.80" rx="44.85" ry="28.30" stroke-width="1.7" fill="#fff" transform="rotate(0 778.80 1300.80)" />
<path d="M823.0,1305.7 A44.85,28.3 0 0 1 734.6,1305.7" stroke-width="2.8" fill="none" />
<path d="M1590.9,866.0 L1591.6,892.1 A34.5,19 0 0 0 1660.7,892.1 L1660.0,863.2" stroke-width="1.5" fill="#fff" />
<ellipse cx="1624.00" cy="846.00" rx="44.20" ry="28.60" stroke-width="1.7" fill="#fff" transform="rotate(0 1624.00 846.00)" />
<path d="M1667.5,851.0 A44.2,28.6 0 0 1 1580.5,851.0" stroke-width="2.8" fill="none" />
<g>
<ellipse cx="795.00" cy="1600.60" rx="64.35" ry="39.50" stroke-width="2.0" fill="#fff" transform="rotate(0 795.00 1600.60)" />
<ellipse cx="795.00" cy="1597.20" rx="64.35" ry="39.50" stroke-width="2.2" fill="#fff" transform="rotate(0 795.00 1597.20)" />
<ellipse cx="794.60" cy="1596.40" rx="27.00" ry="15.40" stroke-width="1.8" fill="none" transform="rotate(0 794.60 1596.40)" />
<ellipse cx="794.20" cy="1594.60" rx="15.90" ry="7.30" stroke-width="2.2" fill="none" transform="rotate(0 794.20 1594.60)" />
<ellipse cx="762.90" cy="1615.20" rx="8.20" ry="4.50" stroke-width="1.8" fill="none" transform="rotate(0 762.90 1615.20)" />
<ellipse cx="837.10" cy="1601.50" rx="8.20" ry="4.50" stroke-width="1.8" fill="none" transform="rotate(0 837.10 1601.50)" />
<path d="M780.5,1596 L780.5,1571.5 L807.1,1571.5 L807.1,1596" stroke-width="1.8" fill="#fff" />
<circle cx="792.50" cy="1553.50" r="21.60" stroke-width="1.9" fill="#fff" />
<ellipse cx="791.60" cy="1542.30" rx="12.00" ry="6.90" stroke-width="1.6" fill="none" transform="rotate(0 791.60 1542.30)" />
</g>
<path d="M1571.3,1070.6 L1725.2,1078.9 C1750,1080 1762,1095 1759.9,1110 C1758,1125 1745,1135 1728.5,1135.1 C1720,1135 1716,1133 1713,1131 L1713,1123 L1697,1122 L1697,1131 L1606,1126 L1606,1118 L1588.7,1117 L1588.7,1124 C1582,1126 1578,1126.5 1574.7,1126 C1552,1124 1540.8,1108 1540.8,1095.4 C1541,1082 1555,1070 1571.3,1070.6 Z" stroke-width="1.9" fill="#fff" />
<path d="M1571.3,1073.5 L1725.2,1081.8" stroke-width="1.1" fill="none" />
<rect x="1563" y="1093.7" width="68" height="15.8" rx="7.9" stroke-width="1.8" fill="#fff" transform="rotate(3 1597 1101.6)"/>
<rect x="1667.3" y="1099.5" width="68.6" height="17.4" rx="8.7" stroke-width="1.8" fill="#fff" transform="rotate(3 1701.6 1108.2)"/>
<path d="M1604.4,1126.8 L1629.2,1183 Q1640,1188 1649.1,1181.4 L1695.4,1131.8" stroke-width="1.9" fill="none" />
<path d="M1607,1122 L1695.4,1128" stroke-width="1.9" fill="none" />
<path d="M1626.8,1140 L1626.8,1173 Q1640,1178 1654,1172 L1654,1140" stroke-width="1.8" fill="#fff" />
<circle cx="1639.20" cy="1128.50" r="20.70" stroke-width="1.9" fill="#fff" />
<ellipse cx="1637.50" cy="1114.40" rx="11.60" ry="7.40" stroke-width="1.6" fill="none" transform="rotate(0 1637.50 1114.40)" />
<ellipse cx="1117.20" cy="1437.50" rx="28.10" ry="14.50" stroke-width="1.9" fill="#fff" transform="rotate(0 1117.20 1437.50)" />
<ellipse cx="1117.20" cy="1435.50" rx="28.10" ry="14.50" stroke-width="1.9" fill="#fff" transform="rotate(0 1117.20 1435.50)" />
<path d="M1105,1428 L1129,1440 M1105,1440 L1129,1428" stroke-width="1.5" fill="none" />
<path d="M1106.5,1451 L1106.5,1530 L1116.4,1545 L1127.1,1530 L1128.8,1451" stroke-width="1.6" fill="#fff" />
<path d="M1105,1461.0 Q1117,1458.0 1129.5,1449.0" stroke-width="1.4" fill="none" />
<path d="M1105,1473.6 Q1117,1470.6 1129.5,1461.6" stroke-width="1.4" fill="none" />
<path d="M1105,1486.2 Q1117,1483.2 1129.5,1474.2" stroke-width="1.4" fill="none" />
<path d="M1105,1498.8 Q1117,1495.8 1129.5,1486.8" stroke-width="1.4" fill="none" />
<path d="M1105,1511.4 Q1117,1508.4 1129.5,1499.4" stroke-width="1.4" fill="none" />
<path d="M1105,1524.0 Q1117,1521.0 1129.5,1512.0" stroke-width="1.4" fill="none" />
<text transform="translate(1146.65,1495.40) scale(0.9465,1)" font-size="36.66" fill="#222" stroke="#fff" stroke-width="1.3" font-weight="normal">PZ 3,5x16</text>
<text transform="translate(1097.74,1585.98) scale(0.9642,1)" font-size="42.71" fill="#0a0a0a" stroke="#0a0a0a" stroke-width="1.0" font-weight="normal">x5</text>
<line x1="1112.90" y1="1116.80" x2="1137.11" y2="1210.13" stroke-width="2.0" />
<path d="M1139.80,1220.50 L1123.77,1190.57 L1139.26,1186.55 Z" fill="#0a0a0a" stroke="none"/>
<circle cx="1105.80" cy="1081.50" r="35.30" stroke-width="2.0" fill="#fff" />
<text transform="translate(1085.23,1104.30) scale(0.9448,1)" font-size="66.28" fill="#0a0a0a" stroke="#0a0a0a" stroke-width="0.6" font-weight="normal">1</text>
<line x1="807.00" y1="1161.60" x2="793.59" y2="1263.12" stroke-width="2.0" />
<path d="M792.10,1274.40 L788.49,1240.64 L804.35,1242.73 Z" fill="#0a0a0a" stroke="none"/>
<circle cx="811.20" cy="1127.10" r="35.30" stroke-width="2.0" fill="#fff" />
<text transform="translate(793.85,1150.00) scale(1.0188,1)" font-size="66.43" fill="#0a0a0a" stroke="#0a0a0a" stroke-width="0.6" font-weight="normal">4</text>
<line x1="1452.00" y1="826.40" x2="1567.20" y2="847.91" stroke-width="2.0" />
<path d="M1580.00,850.30 L1546.09,852.11 L1549.03,836.38 Z" fill="#0a0a0a" stroke="none"/>
<circle cx="1417.90" cy="818.00" r="34.50" stroke-width="2.0" fill="#fff" />
<text transform="translate(1399.21,840.80) scale(1.0636,1)" font-size="65.12" fill="#0a0a0a" stroke="#0a0a0a" stroke-width="0.6" font-weight="normal">4</text>
<line x1="1638.20" y1="1281.50" x2="1646.75" y2="1194.29" stroke-width="2.0" />
<path d="M1647.70,1184.60 L1652.44,1218.22 L1636.52,1216.66 Z" fill="#0a0a0a" stroke="none"/>
<circle cx="1633.30" cy="1315.70" r="35.00" stroke-width="2.0" fill="#fff" />
<text transform="translate(1615.84,1338.50) scale(1.0662,1)" font-size="62.59" fill="#0a0a0a" stroke="#0a0a0a" stroke-width="0.6" font-weight="normal">2</text>
<line x1="959.30" y1="1662.40" x2="860.39" y2="1626.94" stroke-width="2.0" />
<path d="M849.40,1623.00 L883.16,1626.61 L877.76,1641.67 Z" fill="#0a0a0a" stroke="none"/>
<circle cx="990.50" cy="1674.90" r="35.30" stroke-width="2.0" fill="#fff" />
<text transform="translate(973.40,1699.14) scale(0.9716,1)" font-size="67.51" fill="#0a0a0a" stroke="#0a0a0a" stroke-width="0.6" font-weight="normal">3</text>
<line x1="1167.70" y1="1370.50" x2="1133.41" y2="1426.30" stroke-width="2.0" />
<path d="M1129.60,1432.50 L1137.58,1408.06 L1147.80,1414.34 Z" fill="#0a0a0a" stroke="none"/>
<circle cx="1180.10" cy="1349.00" r="22.30" stroke-width="2.0" fill="#fff" />
<text transform="translate(1169.57,1359.43) scale(0.8914,1)" font-size="37.78" fill="#0a0a0a" stroke="#0a0a0a" stroke-width="0.6" font-weight="normal">a</text>
</g>
</svg>
</body></html>
